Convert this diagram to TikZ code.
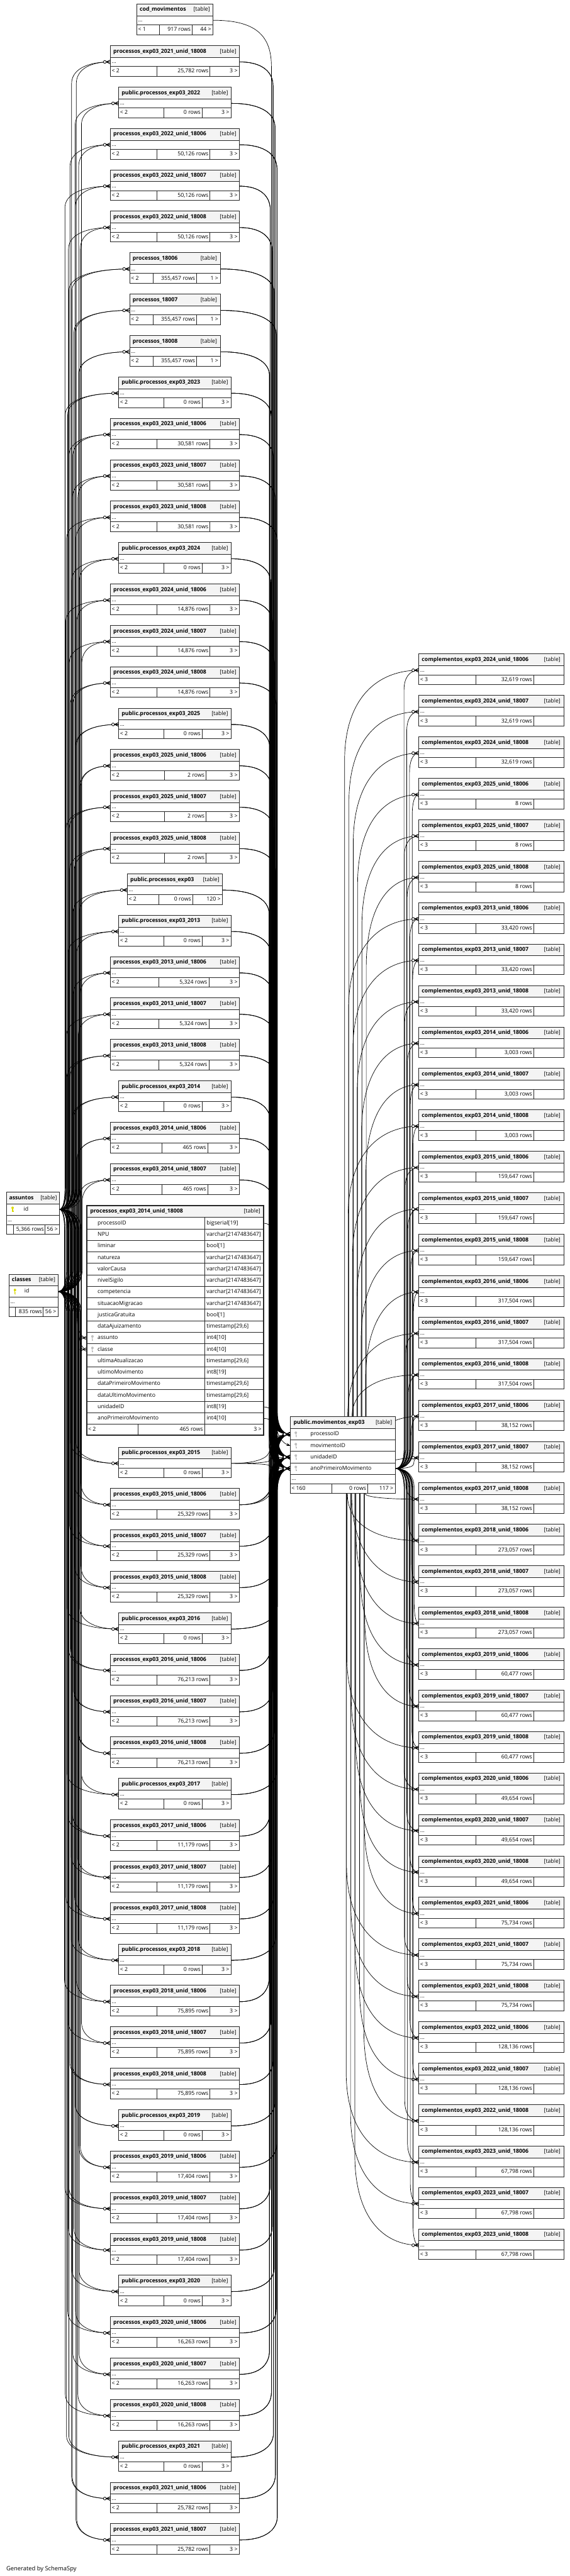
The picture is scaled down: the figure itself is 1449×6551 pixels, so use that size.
\documentclass[tikz,border=0pt]{standalone}
\usepackage{fontspec}
\setmainfont{Open Sans}
\usetikzlibrary{calc,arrows.meta}

\definecolor{hdfill}{HTML}{F4F4F4}
\definecolor{tblline}{HTML}{262626}
\definecolor{pkkey}{HTML}{DADA00}
\definecolor{fkkey}{HTML}{BEBEBE}

\pgfdeclarelayer{background}
\pgfdeclarelayer{edges}
\pgfsetlayers{background,edges,main}

\tikzset{
  cell/.style={draw=tblline, line width=1.3pt, inner sep=0pt, outer sep=0pt,
    anchor=north west, fill=white},
  hd/.style={cell, fill=hdfill, minimum height=30},
  txt/.style={inner sep=0pt, text height=10.5pt, text depth=3pt,
    font=\fontsize{14}{16}\selectfont},
  ttl/.style={txt, anchor=west, font=\fontsize{14}{16}\selectfont\bfseries},
  lt/.style={txt, anchor=west},
  rt/.style={txt, anchor=east},
  rel/.style={line width=1.1pt, draw=black},
  pics/crow/.style={code={
    \draw[rel] (-11,0) -- (0,-5) (-11,0) -- (0,0) (-11,0) -- (0,5);
    \draw[rel, fill=white] (-14.5,0) circle (3.5);}},
  pics/key/.style={code={
    \fill[#1] (0,-4) circle (3.2);
    \draw[#1, line width=1.8pt] (0,-2) -- (0,7);
    \draw[#1, line width=1.2pt] (0,3.5) -- (2.4,3.5) (0,6) -- (2.4,6);}},
}

% small table: name, left, top, width, title, left cell, rows cell, split 1, split 2 (right cell text in \rtxt)
\newcommand{\tblsmall}[9]{%
  \node[hd, minimum width=#4] (#1-h) at (#2,#3) {};
  \node[ttl] at ($(#1-h.west)+(7,0)$) {#5};
  \node[rt] at ($(#1-h.east)+(-8,0)$) {[table]};
  \node[cell, minimum width=#4, minimum height=23] (#1) at (#2,#3+30) {};
  \node[lt] at ($(#1.west)+(3,0)$) {...};
  \node[cell, minimum width=#8, minimum height=25] (#1-f1) at (#2,#3+53) {};
  \node[cell, minimum width=#9-#8, minimum height=25] (#1-f2) at (#2+#8,#3+53) {};
  \node[cell, minimum width=#4-#9, minimum height=25] (#1-f3) at (#2+#9,#3+53) {};
  \node[lt] at ($(#1-f1.west)+(3,0)$) {#6};
  \node[rt] at ($(#1-f2.east)+(-4,0)$) {#7};
  \node[rt] at ($(#1-f3.east)+(-5,0)$) {\rtxt};
}

% connector: from, x1, y1, to, x2, y2, bundle x, bend
\newcommand{\route}[8]{%
  \pgfmathsetmacro{\qsg}{(#6>#3)?1:-1}%
  \pgfmathsetmacro{\qdd}{min(#8,abs(#6-#3)/2.2)}%
  \pgfmathsetmacro{\qya}{#3+\qsg*\qdd}%
  \pgfmathsetmacro{\qyb}{#6-\qsg*\qdd}%
  \pgfmathsetmacro{\qyc}{#3+\qsg*0.45*\qdd}%
  \pgfmathsetmacro{\qyd}{#6-\qsg*0.45*\qdd}%
  \pgfmathsetmacro{\qxc}{#2+0.7*(#7-#2)}%
  \pgfmathsetmacro{\qxd}{#5+0.7*(#7-#5)}%
  \draw[rel] (#1) .. controls (\qxc,#3) and (#7,\qyc) .. (#7,\qya)
    -- (#7,\qyb) .. controls (#7,\qyd) and (\qxd,#6) .. (#4);
  \path (#4) pic {crow};
}

% connector leaving a table top or bottom: from, x1, y1, to, x2, y2
\newcommand{\vroute}[6]{%
  \pgfmathsetmacro{\qsg}{(#6>#3)?1:-1}%
  \pgfmathsetmacro{\qdd}{min(230,abs(#6-#3))}%
  \pgfmathsetmacro{\qyb}{#6-\qsg*\qdd}%
  \pgfmathsetmacro{\qyd}{#6-\qsg*0.3*\qdd}%
  \pgfmathsetmacro{\qxd}{#2+0.45*(#5-#2)}%
  \draw[rel] (#1) -- (#2,\qyb) .. controls (#2,\qyd) and (\qxd,#6) .. (#4);
  \path (#4) pic {crow};
}

% edges of a left table: k, left, right, top
\newcommand{\leftedges}[4]{%
  \begin{pgfonlayer}{edges}
  \pgfmathsetmacro{\ry}{#4+41.5}%
  \pgfmathsetmacro{\bxA}{164+mod(#1*9,44)}%
  \pgfmathsetmacro{\bxB}{168+mod(#1*13,42)}%
  \route{ass-id.east}{151}{3075.5}{L#1.west}{#2}{\ry}{\bxA}{55}
  \route{cls-id.east}{147}{3284.5}{L#1.west}{#2}{\ry}{\bxB}{55}
  \foreach \r/\ty in {p/3647.5,u/3705.5,a/3734.5}{
    \pgfmathsetmacro{\bx}{684+mod(#1*5,22)}%
    \route{L#1.east}{#3}{\ry}{mid-\r.west}{738}{\ty}{\bx}{60}
  }
  \end{pgfonlayer}
}

% edges of a right table: j, top
\newcommand{\rightedges}[2]{%
  \begin{pgfonlayer}{edges}
  \pgfmathsetmacro{\ry}{#2+41.5}%
  \pgfmathsetmacro{\bx}{1027+mod(#1*7,27)}%
  \route{mid-a.east}{1005}{3734.5}{R#1.west}{1065}{\ry}{\bx}{50}
  \pgfmathsetmacro{\sx}{876+mod(#1*11,56)}%
  \pgfmathtruncatemacro{\isabove}{\ry<3560}%
  \ifnum\isabove=1
    \vroute{$(mid-h.north west)+(\sx-738,0)$}{\sx}{3603}{R#1.west}{1065}{\ry}
  \else
    \vroute{$(mid-f1.south west)+(\sx-738,0)$}{\sx}{3798}{R#1.west}{1065}{\ry}
  \fi
  \end{pgfonlayer}
}

\begin{document}
\begin{tikzpicture}[x=1pt,y=-1pt]
\begin{pgfonlayer}{background}
\fill[white] (0,0) rectangle (1449,6551);
\end{pgfonlayer}
\useasboundingbox (0,0) rectangle (1449,6551);

% public.movimentos_exp03
\node[hd, minimum width=267] (mid-h) at (738,3603) {};
\node[ttl] at ($(mid-h.west)+(8,0)$) {public.movimentos\_exp03};
\node[rt] at ($(mid-h.east)+(-8,0)$) {[table]};
\foreach \i/\nm/\nd in {0/processoID/p,1/movimentoID/m,2/unidadeID/u,3/anoPrimeiroMovimento/a}{
  \node[cell, minimum width=267, minimum height=29] (mid-\nd) at (738,3633+29*\i) {};
  \node[lt] at ($(mid-\nd.west)+(51,0)$) {\nm};
  \path ($(mid-\nd.west)+(14,0)$) pic {key=fkkey};
}
\node[cell, minimum width=267, minimum height=24] (mid-d) at (738,3749) {};
\node[lt] at ($(mid-d.west)+(3,0)$) {...};
\node[cell, minimum width=106, minimum height=25] (mid-f1) at (738,3773) {};
\node[cell, minimum width=91, minimum height=25] (mid-f2) at (844,3773) {};
\node[cell, minimum width=70, minimum height=25] (mid-f3) at (935,3773) {};
\node[lt] at ($(mid-f1.west)+(3,0)$) {< 160};
\node[rt] at ($(mid-f2.east)+(-4,0)$) {0 rows};
\node[rt] at ($(mid-f3.east)+(-5,0)$) {117 >};

% assuntos
\node[hd, minimum width=135, minimum height=29] (ass-h) at (16,3032) {};
\node[ttl] at ($(ass-h.west)+(7,0)$) {assuntos};
\node[rt] at ($(ass-h.east)+(-6,0)$) {[table]};
\node[cell, minimum width=135, minimum height=29] (ass-id) at (16,3061) {};
\path ($(ass-id.west)+(16,0)$) pic {key=pkkey};
\node[lt] at ($(ass-id.west)+(44,0)$) {id};
\node[cell, minimum width=135, minimum height=25] (ass-d) at (16,3090) {};
\node[lt] at ($(ass-d.west)+(3,0)$) {...};
\node[cell, minimum width=18, minimum height=23] (ass-f1) at (16,3115) {};
\node[cell, minimum width=81, minimum height=23] (ass-f2) at (34,3115) {};
\node[cell, minimum width=36, minimum height=23] (ass-f3) at (115,3115) {};
\node[rt] at ($(ass-f2.east)+(-3,0)$) {5,366 rows};
\node[rt] at ($(ass-f3.east)+(-4,0)$) {56 >};

% classes
\node[hd, minimum width=124, minimum height=29] (cls-h) at (23,3241) {};
\node[ttl] at ($(cls-h.west)+(7,0)$) {classes};
\node[rt] at ($(cls-h.east)+(-6,0)$) {[table]};
\node[cell, minimum width=124, minimum height=29] (cls-id) at (23,3270) {};
\path ($(cls-id.west)+(15,0)$) pic {key=pkkey};
\node[lt] at ($(cls-id.west)+(39,0)$) {id};
\node[cell, minimum width=124, minimum height=25] (cls-d) at (23,3299) {};
\node[lt] at ($(cls-d.west)+(3,0)$) {...};
\node[cell, minimum width=16, minimum height=24] (cls-f1) at (23,3324) {};
\node[cell, minimum width=71, minimum height=24] (cls-f2) at (39,3324) {};
\node[cell, minimum width=37, minimum height=24] (cls-f3) at (110,3324) {};
\node[rt] at ($(cls-f2.east)+(-3,0)$) {835 rows};
\node[rt] at ($(cls-f3.east)+(-4,0)$) {56 >};

% processos_exp03_2014_unid_18008, shown with its columns
\node[hd, minimum width=449] (exp-h) at (221,3066) {};
\node[ttl] at ($(exp-h.west)+(8,0)$) {processos\_exp03\_2014\_unid\_18008};
\node[rt] at ($(exp-h.east)+(-8,0)$) {[table]};
\foreach \i/\nm/\ty in {0/processoID/bigserial[19], 1/NPU/varchar[2147483647],
    2/liminar/bool[1], 3/natureza/varchar[2147483647], 4/valorCausa/varchar[2147483647],
    5/nivelSigilo/varchar[2147483647], 6/competencia/varchar[2147483647],
    7/situacaoMigracao/varchar[2147483647], 8/justicaGratuita/bool[1],
    9/dataAjuizamento/{timestamp[29,6]}, 10/assunto/int4[10], 11/classe/int4[10],
    12/ultimaAtualizacao/{timestamp[29,6]}, 13/ultimoMovimento/int8[19],
    14/dataPrimeiroMovimento/{timestamp[29,6]}, 15/dataUltimoMovimento/{timestamp[29,6]},
    16/unidadeID/int8[19], 17/anoPrimeiroMovimento/int4[10]}{
  \pgfmathsetmacro{\ey}{3096+29.2*\i}
  \node[cell, minimum width=299, minimum height=29.2] (exp-\i) at (221,\ey) {};
  \node[cell, minimum width=150, minimum height=29.2] (exp-\i-t) at (520,\ey) {};
  \node[lt] at ($(exp-\i.west)+(27,0)$) {\nm};
  \node[lt] at ($(exp-\i-t.west)+(5,0)$) {\ty};
}
\path ($(exp-10.west)+(14,0)$) pic {key=fkkey};
\path ($(exp-11.west)+(14,0)$) pic {key=fkkey};
\node[cell, minimum width=130, minimum height=28] (exp-f1) at (221,3621.6) {};
\node[cell, minimum width=169, minimum height=28] (exp-f2) at (351,3621.6) {};
\node[cell, minimum width=150, minimum height=28] (exp-f3) at (520,3621.6) {};
\node[lt] at ($(exp-f1.west)+(3,0)$) {< 2};
\node[rt] at ($(exp-f2.east)+(-4,0)$) {465 rows};
\node[rt] at ($(exp-f3.east)+(-5,0)$) {3 >};
\draw[tblline, line width=3pt] (221,3066) rectangle (670,3649.6);
\begin{pgfonlayer}{edges}
\route{ass-id.east}{151}{3075.5}{exp-10.west}{221}{3402.6}{196}{55}
\route{cls-id.east}{147}{3284.5}{exp-11.west}{221}{3431.8}{200}{55}
\route{exp-0-t.east}{670}{3110.6}{mid-p.west}{738}{3647.5}{702}{60}
\route{exp-16-t.east}{670}{3577.8}{mid-u.west}{738}{3705.5}{700}{40}
\route{exp-17-t.east}{670}{3607}{mid-a.west}{738}{3734.5}{704}{40}
\end{pgfonlayer}

% cod_movimentos
\def\rtxt{44 >}
\tblsmall{L1}{348}{10}{194}{cod\_movimentos}{< 1}{917 rows}{57}{141}
\begin{pgfonlayer}{edges}
\draw[rel, -{Stealth[length=10pt,width=7pt]}] (L1.east) .. controls (650,51.5) and (690,90) .. (690,170)
  -- (690,3480) .. controls (690,3620) and (705,3665) .. (mid-m.west);
\end{pgfonlayer}

% processos_exp03_2021_unid_18008
\def\rtxt{3 >}
\tblsmall{L2}{281}{116}{328}{processos\_exp03\_2021\_unid\_18008}{< 2}{25,782 rows}{118}{253}
\leftedges{2}{281}{609}{116}

% processos_18006 .. 18008
\foreach \tk/\un in {7/18006,8/18007,9/18008}{
  \pgfmathsetmacro{\tp}{116+(\tk-2)*105.3}
  \def\rtxt{1 >}
  \tblsmall{L\tk}{330}{\tp}{230}{processos\_\un}{< 2}{355,457 rows}{60}{170}
  \leftedges{\tk}{330}{560}{\tp}
}

% public.processos_exp03
\def\rtxt{120 >}
\tblsmall{L22}{324}{2222}{242}{public.processos\_exp03}{< 2}{0 rows}{80}{166}
\leftedges{22}{324}{566}{2222}

% public.processos_exp03_YYYY and their unid tables
\foreach \yr/\tk/\nr/\sa/\sb in {2022/3/{50,126 rows}/118/253, 2023/10/{30,581 rows}/118/253,
    2024/14/{14,876 rows}/118/253, 2025/18/{2 rows}/137/243, 2013/23/{5,324 rows}/122/250,
    2014/27/{465 rows}/130/247, 2015/31/{25,329 rows}/118/253, 2016/35/{76,213 rows}/118/253,
    2017/39/{11,179 rows}/118/253, 2018/43/{75,895 rows}/118/253, 2019/47/{17,404 rows}/118/253,
    2020/51/{16,263 rows}/118/253, 2021/55/{25,782 rows}/118/253}{
  \pgfmathsetmacro{\tp}{\tk<30 ? 116+(\tk-2)*105.3 : 3680+(\tk-31)*105.3}
  \def\rtxt{3 >}
  \tblsmall{L\tk}{302}{\tp}{286}{public.processos\_exp03\_\yr}{< 2}{0 rows}{115}{212}
  \leftedges{\tk}{302}{588}{\tp}
  \foreach \un in {1,2,3}{
    \pgfmathtruncatemacro{\skipit}{(\un==3)&&((\yr==2014)||(\yr==2021))}
    \ifnum\skipit=0
      \pgfmathtruncatemacro{\kk}{\tk+\un}
      \pgfmathtruncatemacro{\uu}{5+\un}
      \pgfmathsetmacro{\tq}{\kk<30 ? 116+(\kk-2)*105.3 : 3680+(\kk-31)*105.3}
      \tblsmall{L\kk}{281}{\tq}{328}{processos\_exp03\_\yr\_unid\_1800\uu}{< 2}{\nr}{\sa}{\sb}
      \leftedges{\kk}{281}{609}{\tq}
    \fi
  }
}

% complementos_exp03_YYYY_unid_1800X
\foreach \yr/\jj/\nr in {2024/0/{32,619 rows}, 2025/3/{8 rows}, 2013/6/{33,420 rows},
    2014/9/{3,003 rows}, 2015/12/{159,647 rows}, 2016/15/{317,504 rows}, 2017/18/{38,152 rows},
    2018/21/{273,057 rows}, 2019/24/{60,477 rows}, 2020/27/{49,654 rows}, 2021/30/{75,734 rows},
    2022/33/{128,136 rows}, 2023/36/{67,798 rows}}{
  \foreach \un in {0,1,2}{
    \pgfmathtruncatemacro{\jx}{\jj+\un}
    \pgfmathtruncatemacro{\uu}{6+\un}
    \pgfmathsetmacro{\tp}{1663+\jx*105.4}
    \def\rtxt{}
    \tblsmall{R\jx}{1065}{\tp}{368}{complementos\_exp03\_\yr\_unid\_1800\uu}{< 3}{\nr}{145}{292}
    \rightedges{\jx}{\tp}
  }
}

\node[txt, anchor=west, font=\fontsize{15}{17}\selectfont] (gen) at (16,6533) {Generated by SchemaSpy};
\end{tikzpicture}
\end{document}
